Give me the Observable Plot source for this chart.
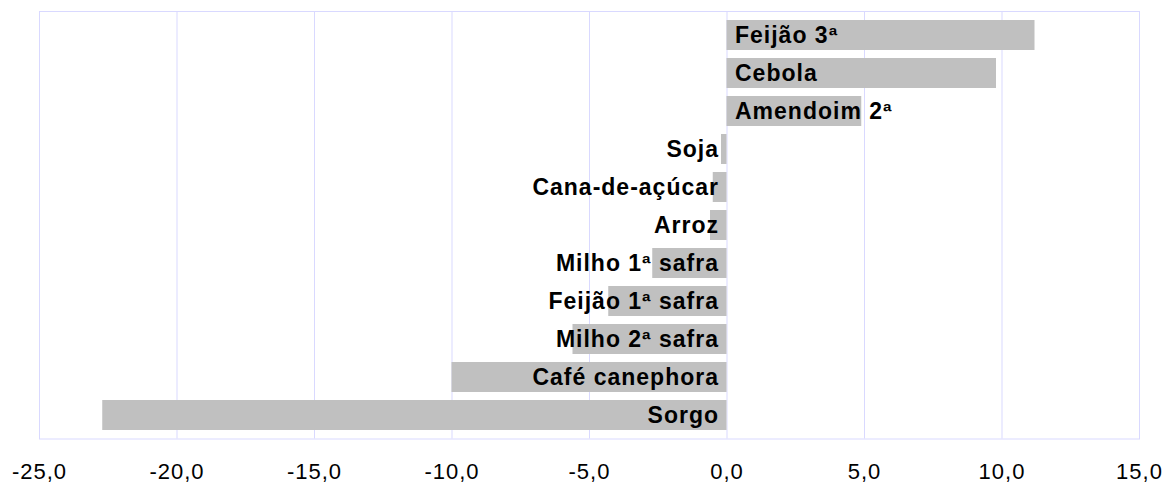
<!DOCTYPE html>
<html>
<head>
<meta charset="utf-8">
<script src="https://cdn.jsdelivr.net/npm/d3@7"></script>
<script src="https://cdn.jsdelivr.net/npm/@observablehq/plot@0.6"></script>
<style>
  html, body { margin: 0; padding: 0; background: #fff; }
  #chart svg { display: block; }
</style>
</head>
<body>
<div id="chart"></div>
<script>
const categories = ["Feijão 3ª", "Cebola", "Amendoim 2ª", "Soja", "Cana-de-açúcar", "Arroz",
  "Milho 1ª safra", "Feijão 1ª safra", "Milho 2ª safra", "Café canephora", "Sorgo"];
const values = [11.2, 9.8, 4.9, -0.2, -0.5, -0.6, -2.7, -4.3, -5.6, -10.0, -22.7];
const xTicks = [-25, -20, -15, -10, -5, 0, 5, 10, 15];

const data = categories.map((c, i) => ({ cat: c, value: values[i] }));
const lavender = "#d9d9ff";
const font = "'Liberation Sans', Arial, sans-serif";
const fmt = d => d.toFixed(1).replace(".", ",");

const chart = Plot.plot({
  width: 1164,
  height: 483,
  marginLeft: 39,
  marginRight: 25,
  marginTop: 11,
  marginBottom: 44.5,
  style: { fontFamily: font, background: "#fff", overflow: "visible" },
  x: { domain: [-25, 15], ticks: xTicks, tickFormat: fmt },
  y: { domain: categories, paddingInner: 0.22, paddingOuter: 0.12, axis: null },
  marks: [
    Plot.gridX(xTicks, { stroke: lavender, strokeOpacity: 1 }),
    Plot.frame({ stroke: lavender }),
    Plot.barX(data, { x1: 0, x2: "value", y: "cat", fill: "#c0c0c0" }),
    Plot.text(data.filter(d => d.value < 0), {
      x: 0, y: "cat", text: "cat", textAnchor: "end", dx: -8,
      fontWeight: "bold", fontSize: 23, fill: "#000", fontFamily: font
    }),
    Plot.text(data.filter(d => d.value >= 0), {
      x: 0, y: "cat", text: "cat", textAnchor: "start", dx: 8,
      fontWeight: "bold", fontSize: 23, fill: "#000", fontFamily: font
    }),
    Plot.axisX(xTicks, {
      tickSize: 0, tickPadding: 24, fontSize: 22, fill: "#000",
      tickFormat: fmt, label: null
    })
  ]
});
chart.querySelectorAll("text").forEach(t => t.style.letterSpacing = "1px");
document.getElementById("chart").appendChild(chart);
</script>
</body>
</html>
